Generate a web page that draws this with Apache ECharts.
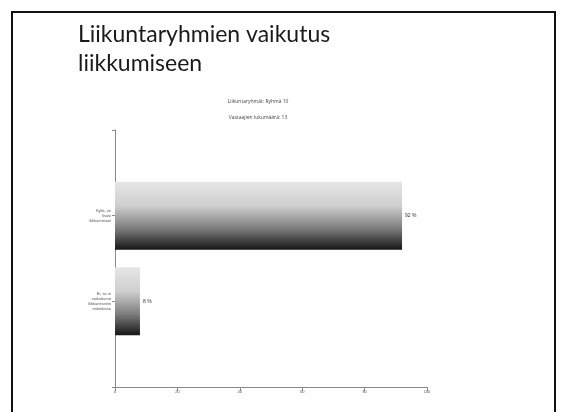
<!DOCTYPE html>
<html>
<head>
<meta charset="utf-8">
<script src="https://cdn.jsdelivr.net/npm/echarts@6/dist/echarts.min.js"></script>
<style>html,body{margin:0;padding:0;background:#fff;}#c{width:565px;height:412px;}</style>
</head>
<body>
<div id="c"></div>
<script>
var categories = ['', 'Kyllä, se\nlisäsi\nliikkumistani', 'Ei, se ei\nvaikuttanut\nliikkumiseeni\nmitenkään', ''];
var values = [null, 92, 8, null];
var xTicks = ['0', '20', '40', '60', '80', '100'];
var titleText = 'Liikuntaryhmien vaikutus\nliikkumiseen';
var subtitleLines = ['Liikuntaryhmät: Ryhmä 10', 'Vastaajien lukumäärä: 13'];

var chart = echarts.init(document.getElementById('c'), null, {renderer: 'canvas'});
chart.setOption({
  backgroundColor: '#fff',
  animation: false,
  graphic: [
    {type: 'rect', shape: {x: 12, y: 12, width: 543, height: 420}, style: {fill: 'none', stroke: '#111', lineWidth: 2}},
    {type: 'text', left: 78, top: 20, style: {text: titleText, font: '23px Lato', fill: '#1a1a1a', lineHeight: 29}},
    {type: 'text', x: 258, y: 99, style: {text: subtitleLines[0], font: '5px "Open Sans"', fill: '#444', textAlign: 'center'}},
    {type: 'text', x: 258, y: 115, style: {text: subtitleLines[1], font: '5px "Open Sans"', fill: '#444', textAlign: 'center'}}
  ],
  grid: {left: 115, right: 138, top: 130, bottom: 25, containLabel: false},
  xAxis: {
    type: 'value', min: 0, max: 100, interval: 20,
    axisLine: {show: true, lineStyle: {color: '#888', width: 1}},
    axisTick: {show: true, length: 4, lineStyle: {color: '#888'}},
    splitLine: {show: false},
    axisLabel: {fontSize: 4, color: '#555', margin: 3, formatter: function (v) { return xTicks[v / 20]; }}
  },
  yAxis: {
    type: 'category', inverse: true, boundaryGap: false, data: categories,
    axisLine: {show: true, lineStyle: {color: '#888', width: 1}},
    axisTick: {show: true, length: 3, lineStyle: {color: '#888'}},
    axisLabel: {fontSize: 4, lineHeight: 5, color: '#555', margin: 4, align: 'right'}
  },
  series: [{
    type: 'bar', data: values, barWidth: 68,
    itemStyle: {color: new echarts.graphic.LinearGradient(0, 0, 0, 1, [
      {offset: 0, color: '#e6e6e6'},
      {offset: 0.35, color: '#cfcfcf'},
      {offset: 0.7, color: '#7a7a7a'},
      {offset: 1, color: '#151515'}
    ])},
    label: {show: true, position: 'right', fontSize: 5, color: '#333', distance: 3, formatter: function (p) { return p.value + ' %'; }}
  }]
});
</script>
</body>
</html>
